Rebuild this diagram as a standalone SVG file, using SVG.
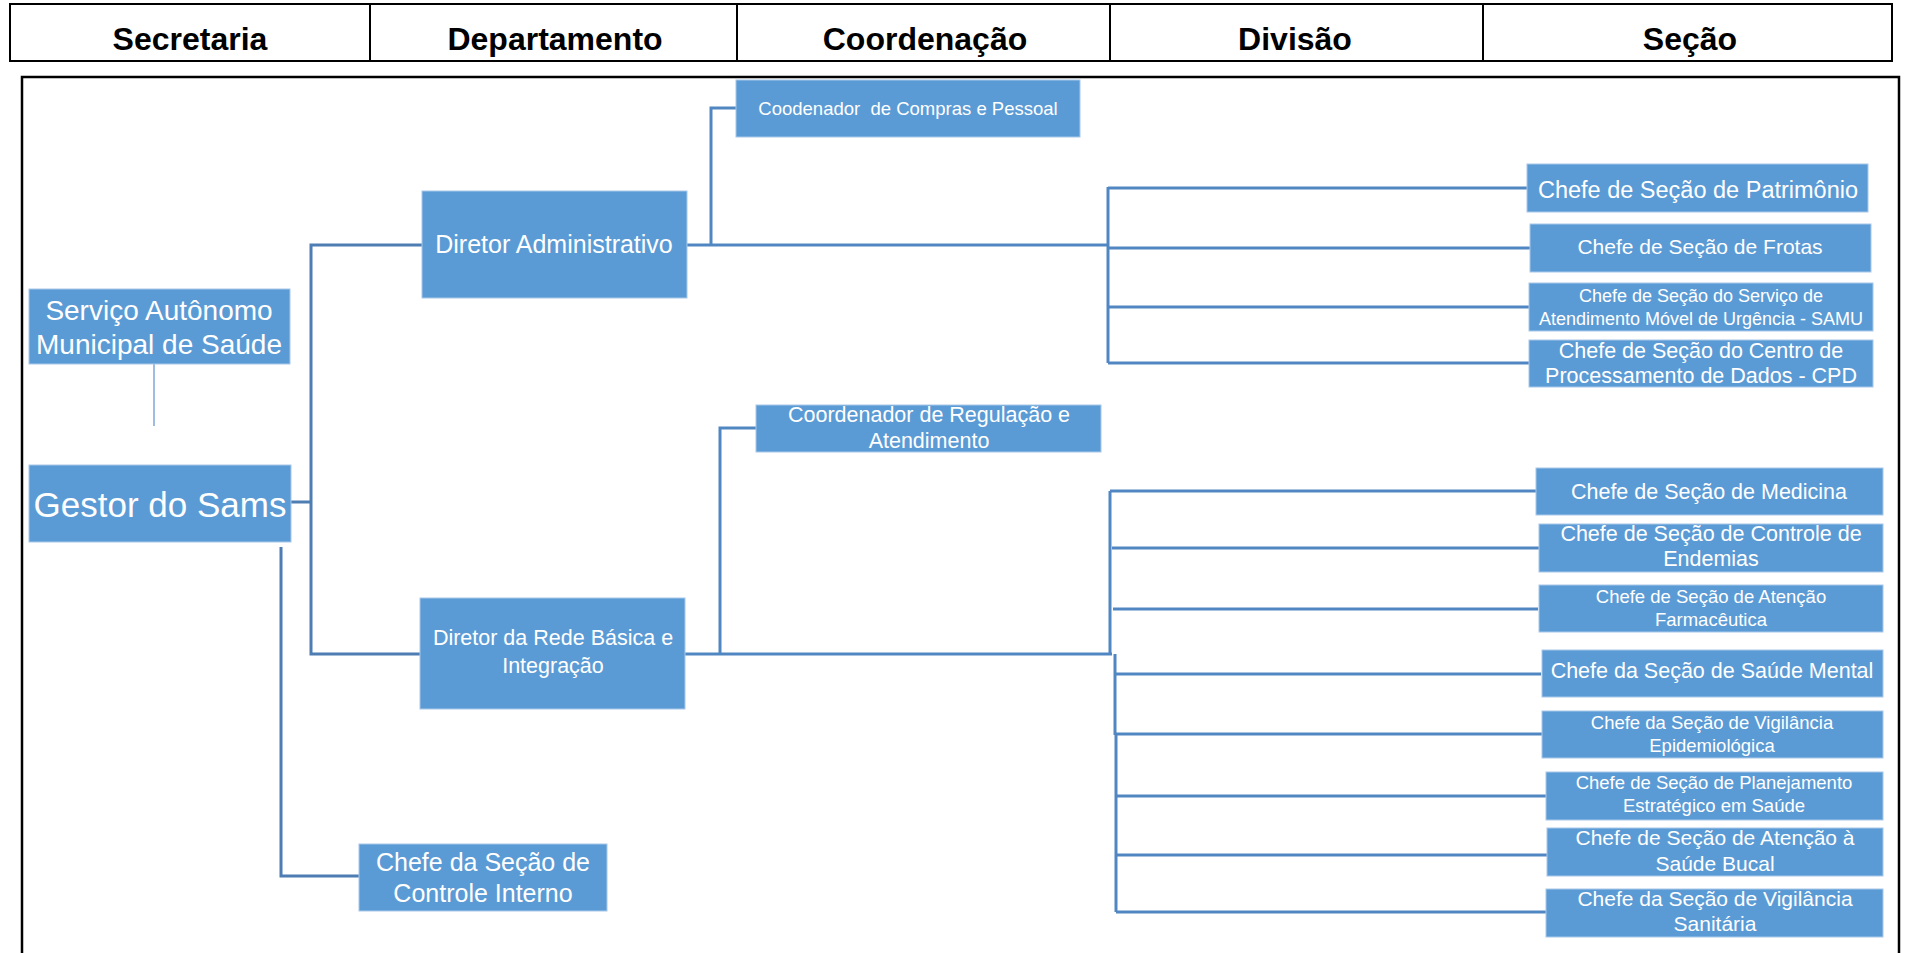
<svg xmlns="http://www.w3.org/2000/svg" width="1907" height="953" viewBox="0 0 1907 953">
<style>
.hdr{font-family:"Liberation Sans",Arial,sans-serif;font-weight:bold;font-size:32px;fill:#000;text-anchor:middle}
.box{fill:#5B9BD5;stroke:#A8C8EA;stroke-width:1}
.t{font-family:"Liberation Sans",Arial,sans-serif;fill:#fff;text-anchor:middle}
.ln{fill:none;stroke:#5087C2;stroke-width:3}
.lnd{fill:none;stroke:#4E7DB3;stroke-width:3}
</style>
<rect x="0" y="0" width="1907" height="953" fill="#fff"/>
<g id="header">
<rect x="10" y="4" width="1882" height="57" fill="none" stroke="#000" stroke-width="2"/>
<line x1="370" y1="4" x2="370" y2="61" stroke="#000" stroke-width="2"/>
<line x1="737" y1="4" x2="737" y2="61" stroke="#000" stroke-width="2"/>
<line x1="1110" y1="4" x2="1110" y2="61" stroke="#000" stroke-width="2"/>
<line x1="1483" y1="4" x2="1483" y2="61" stroke="#000" stroke-width="2"/>
<text class="hdr" x="190" y="50">Secretaria</text>
<text class="hdr" x="555" y="50">Departamento</text>
<text class="hdr" x="925" y="50">Coordenação</text>
<text class="hdr" x="1295" y="50">Divisão</text>
<text class="hdr" x="1690" y="50">Seção</text>
</g>
<rect x="22" y="77" width="1877" height="900" fill="none" stroke="#000" stroke-width="2.5"/>
<g id="connectors">
<line x1="154" y1="364" x2="154" y2="426" stroke="#7FA7D7" stroke-width="1.5"/>
<path class="lnd" d="M291,502 H311"/>
<path class="lnd" d="M422,245 H311 V654 H420"/>
<path class="lnd" d="M281,547 V876 H359"/>
<path class="ln" d="M687,245 H1108"/>
<path class="ln" d="M711,245 V108 H736"/>
<path class="ln" d="M1108,187 V363"/>
<path class="ln" d="M1108,188 H1527 M1108,248 H1530 M1108,307 H1529 M1108,363 H1529"/>
<path class="ln" d="M685,654 H1112"/>
<path class="ln" d="M720,654 V428 H756"/>
<path class="ln" d="M1110,491 V654 M1115,654 V735 M1116,735 V912"/>
<path class="ln" d="M1110,491 H1536 M1112,548 H1539 M1113,609 H1538 M1115,674 H1541 M1116,734 H1542 M1116,796 H1546 M1116,855 H1547 M1116,912 H1546"/>
</g>
<g id="n-servico">
<rect class="box" x="29" y="289" width="261" height="75"/>
<text class="t" x="159" y="320" font-size="28">Serviço Autônomo</text>
<text class="t" x="159" y="354" font-size="28">Municipal de Saúde</text>
</g>
<g id="n-gestor">
<rect class="box" x="29" y="465" width="262" height="77"/>
<text class="t" x="160" y="517" font-size="35">Gestor do Sams</text>
</g>
<g id="n-dir-adm">
<rect class="box" x="422" y="191" width="265" height="107"/>
<text class="t" x="554" y="253" font-size="25">Diretor Administrativo</text>
</g>
<g id="n-dir-rede">
<rect class="box" x="420" y="598" width="265" height="111"/>
<text class="t" x="553" y="645" font-size="21.5">Diretor da Rede Básica e</text>
<text class="t" x="553" y="673" font-size="21.5">Integração</text>
</g>
<g id="n-controle-interno">
<rect class="box" x="359" y="844" width="248" height="67"/>
<text class="t" x="483" y="871" font-size="25">Chefe da Seção de</text>
<text class="t" x="483" y="902" font-size="25">Controle Interno</text>
</g>
<g id="n-compras">
<rect class="box" x="736" y="80" width="344" height="57"/>
<text class="t" x="908" y="115" font-size="18.5" xml:space="preserve">Coodenador  de Compras e Pessoal</text>
</g>
<g id="n-regulacao">
<rect class="box" x="756" y="405" width="345" height="47"/>
<text class="t" x="929" y="422" font-size="21.5">Coordenador de Regulação e</text>
<text class="t" x="929" y="448" font-size="21.5">Atendimento</text>
</g>
<g id="n-patrimonio">
<rect class="box" x="1527" y="164" width="341" height="48"/>
<text class="t" x="1698" y="198" font-size="23.5">Chefe de Seção de Patrimônio</text>
</g>
<g id="n-frotas">
<rect class="box" x="1530" y="224" width="341" height="48"/>
<text class="t" x="1700" y="254" font-size="21">Chefe de Seção de Frotas</text>
</g>
<g id="n-samu">
<rect class="box" x="1529" y="283" width="344" height="48"/>
<text class="t" x="1701" y="302" font-size="18">Chefe de Seção do Serviço de</text>
<text class="t" x="1701" y="325" font-size="18">Atendimento Móvel de Urgência - SAMU</text>
</g>
<g id="n-cpd">
<rect class="box" x="1529" y="340" width="344" height="47"/>
<text class="t" x="1701" y="358" font-size="21.5">Chefe de Seção do Centro de</text>
<text class="t" x="1701" y="383" font-size="21.5">Processamento de Dados - CPD</text>
</g>
<g id="n-medicina">
<rect class="box" x="1536" y="468" width="347" height="47"/>
<text class="t" x="1709" y="499" font-size="21.5">Chefe de Seção de Medicina</text>
</g>
<g id="n-endemias">
<rect class="box" x="1539" y="524" width="344" height="48"/>
<text class="t" x="1711" y="541" font-size="21.5">Chefe de Seção de Controle de</text>
<text class="t" x="1711" y="566" font-size="21.5">Endemias</text>
</g>
<g id="n-farmaceutica">
<rect class="box" x="1539" y="585" width="344" height="47"/>
<text class="t" x="1711" y="603" font-size="18.5">Chefe de Seção de Atenção</text>
<text class="t" x="1711" y="626" font-size="18.5">Farmacêutica</text>
</g>
<g id="n-saude-mental">
<rect class="box" x="1542" y="650" width="341" height="47"/>
<text class="t" x="1712" y="678" font-size="21.5">Chefe da Seção de Saúde Mental</text>
</g>
<g id="n-vig-epid">
<rect class="box" x="1542" y="711" width="341" height="47"/>
<text class="t" x="1712" y="729" font-size="18.5">Chefe da Seção de Vigilância</text>
<text class="t" x="1712" y="752" font-size="18.5">Epidemiológica</text>
</g>
<g id="n-planejamento">
<rect class="box" x="1546" y="772" width="337" height="48"/>
<text class="t" x="1714" y="789" font-size="18.5">Chefe de Seção de Planejamento</text>
<text class="t" x="1714" y="812" font-size="18.5">Estratégico em Saúde</text>
</g>
<g id="n-saude-bucal">
<rect class="box" x="1547" y="828" width="336" height="48"/>
<text class="t" x="1715" y="845" font-size="21">Chefe de Seção de Atenção à</text>
<text class="t" x="1715" y="871" font-size="21">Saúde Bucal</text>
</g>
<g id="n-sanitaria">
<rect class="box" x="1546" y="889" width="337" height="48"/>
<text class="t" x="1715" y="906" font-size="21">Chefe da Seção de Vigilância</text>
<text class="t" x="1715" y="931" font-size="21">Sanitária</text>
</g>
</svg>
